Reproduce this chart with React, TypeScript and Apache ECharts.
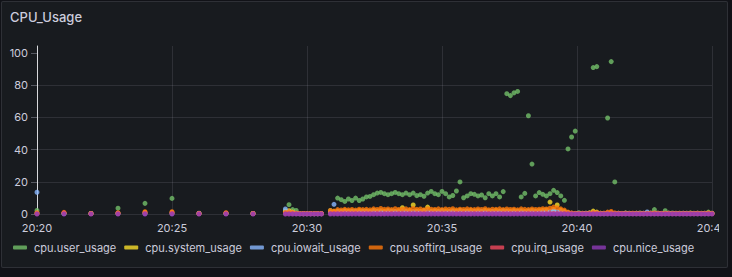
import React, { useEffect, useRef } from "react";
import * as echarts from "echarts";

// ---- time sampling (seconds after 20:20:00) ----
const BASE_TIME = Date.UTC(2024, 0, 1, 20, 20, 0);
const X_MIN = 0;
const X_MAX = 1500;
const X_TICK = 300;
const SPARSE = { start: 0, step: 60, count: 9 };
const SEG1 = { start: 552, step: 8, count: 11 };
const SEG2 = { start: 652, step: 8, count: 107 };

const Y_TICKS = [0, 20, 40, 60, 80, 100];
const Y_MAX = 104.3;

const SERIES_NAMES = [
  "cpu.user_usage",
  "cpu.system_usage",
  "cpu.iowait_usage",
  "cpu.softirq_usage",
  "cpu.irq_usage",
  "cpu.nice_usage",
];

// ---- values: 9 sparse samples, 11 samples (20:29), 107 samples (20:30:52 - 20:45) ----
const userUsage = [
  2.2, 0.3, 0.3, 3.6, 6.6, 9.7, 0.3, 0.3, 0.3,
  2.0, 5.8, 2.7, 2.2, 0.3, 0.3, 0.2, 0.3, 0.2, 0.2, 0.3,
  2.2, 1.2, 9.9, 8.9, 7.8, 9.3, 8.4, 9.9, 8.4, 9.3,
  10.6, 10.9, 12, 13, 13.4, 12.6, 12, 12.6, 13.4, 12.6,
  12, 13, 12, 13, 11.4, 12, 11, 13, 14, 12.6,
  12, 14, 12.6, 10.6, 11.5, 14.3, 19.9, 10.1, 11.2, 12.6,
  12.2, 11.2, 11.8, 10.1, 12.6, 11.2, 12.6, 10.6, 13.9, 74.7,
  73.5, 75.2, 76.1, 10.6, 12.8, 61, 31, 11.2, 13.3, 12.2,
  11.2, 12.6, 14.7, 13.3, 11.2, 8.5, 40.4, 47.8, 51.5, 0.8,
  0.5, 0.4, 0.6, 90.9, 91.5, 0.5, 0.4, 59.6, 94.6, 19.9,
  0.5, 0.4, 0.6, 0.5, 0.4, 0.5, 0.6, 0.4, 0.5, 0.6,
  2.7, 0.5, 0.4, 2.0, 0.5, 0.6, 0.4, 0.5, 0.4, 0.5,
  0.6, 0.4, 0.5, 0.4, 0.5, 1.2, 0.5,
];

const systemUsage = [
  0.5, 0.5, 0.3, 0.5, 1.0, 1.0, 0.3, 0.5, 0.3,
  1.5, 2.0, 1.2, 0.5, 0.3, 0.2, 0.2, 0.2, 0.2, 0.2, 0.2,
  1.2, 1.5, 1.8, 1.6, 2.0, 1.7, 1.9, 1.5, 2.1, 1.8,
  1.9, 1.6, 2.2, 1.8, 2.0, 1.7, 2.1, 1.9, 1.6, 2.0,
  3.9, 1.8, 2.1, 5.6, 1.9, 1.7, 2.2, 4.3, 1.8, 2.0,
  1.7, 2.1, 1.9, 1.6, 2.0, 1.8, 2.2, 1.7, 1.9, 2.1,
  1.8, 2.0, 1.6, 2.2, 1.9, 1.7, 2.1, 1.8, 2.0, 1.9,
  1.7, 2.1, 1.8, 2.0, 1.6, 1.9, 2.2, 1.8, 2.0, 2.3,
  2.5, 7.4, 2.8, 5.6, 2.4, 1.6, 0.8, 0.4, 0.3, 0.3,
  0.3, 0.4, 0.6, 1.8, 1.2, 0.4, 0.3, 0.5, 0.7, 0.4,
  0.3, 0.3, 0.4, 0.3, 0.3, 0.4, 0.3, 0.3, 0.4, 0.3,
  0.3, 0.4, 0.3, 0.3, 0.4, 0.3, 0.3, 0.4, 0.3, 0.3,
  0.4, 0.3, 0.3, 0.4, 0.3, 0.5, 0.3,
];

const iowaitUsage = [
  13.5, 0.3, 0.3, 0.3, 0.3, 0.3, 0.5, 0.3, 0.3,
  3.1, 1.2, 0.6, 0.3, 0.2, 0.2, 0.2, 0.2, 0.2, 0.2, 0.2,
  0.8, 6.0, 1.4, 1.2, 1.6, 1.3, 1.5, 1.7, 1.2, 1.4,
  1.6, 1.3, 1.8, 1.4, 1.5, 1.2, 1.7, 1.4, 1.6, 1.3,
  1.5, 1.8, 1.3, 1.6, 1.4, 1.2, 1.7, 1.5, 1.3, 1.6,
  1.4, 1.7, 1.2, 1.5, 1.6, 1.3, 1.8, 1.4, 1.5, 1.2,
  1.6, 1.4, 1.7, 1.3, 1.5, 1.6, 1.2, 1.4, 1.7, 1.5,
  1.3, 1.6, 1.4, 1.5, 1.2, 1.7, 1.4, 1.6, 1.3, 1.5,
  1.6, 1.8, 2.0, 1.7, 1.4, 1.0, 0.6, 0.4, 0.3, 0.4,
  0.3, 0.5, 0.4, 0.6, 0.5, 0.3, 0.4, 0.5, 0.4, 0.3,
  0.4, 0.3, 0.5, 0.4, 0.3, 0.4, 0.4, 0.5, 1.3, 0.4,
  0.5, 0.4, 0.3, 0.4, 0.5, 0.3, 0.4, 0.3, 0.5, 0.4,
  0.3, 0.4, 0.5, 0.3, 0.4, 0.3, 0.4,
];

const softirqUsage = [
  0.8, 1.0, 0.3, 0.8, 1.4, 1.4, 0.3, 0.8, 0.3,
  1.0, 1.5, 1.0, 0.5, 0.3, 0.3, 0.3, 0.3, 0.3, 0.3, 0.3,
  2.2, 1.8, 2.7, 2.5, 2.9, 2.6, 2.8, 2.4, 3.0, 2.7,
  2.9, 2.6, 3.2, 2.8, 3.4, 2.9, 3.1, 2.7, 3.3, 2.8,
  3.0, 3.2, 2.7, 3.4, 2.9, 3.1, 2.6, 3.3, 3.0, 2.8,
  3.2, 2.7, 3.1, 2.9, 3.3, 2.6, 3.0, 2.8, 3.2, 2.9,
  2.7, 3.1, 2.8, 3.3, 2.6, 3.0, 2.9, 3.2, 2.7, 3.1,
  2.8, 3.0, 2.6, 3.2, 2.9, 2.7, 3.1, 2.8, 3.0, 3.3,
  3.1, 3.6, 4.3, 3.8, 3.2, 2.4, 1.2, 0.6, 0.4, 0.3,
  0.4, 0.3, 0.5, 1.0, 0.8, 0.4, 0.5, 1.2, 1.6, 0.6,
  0.4, 0.3, 0.4, 0.3, 0.5, 0.3, 0.4, 0.3, 0.4, 0.5,
  0.6, 0.4, 0.3, 0.5, 0.4, 0.3, 0.4, 0.3, 0.4, 0.3,
  0.4, 0.3, 0.5, 0.3, 0.4, 0.6, 0.4,
];

const irqUsage = [
  0.2, 0.6, 0.2, 0.3, 0.5, 0.5, 0.2, 0.3, 0.2,
  0.2, 0.2, 0.2, 0.2, 0.2, 0.2, 0.2, 0.2, 0.2, 0.2, 0.2,
  0.3, 0.4, 0.3, 0.3, 0.4, 0.3, 0.3, 0.4, 0.3, 0.3,
  0.4, 0.3, 0.3, 0.4, 0.3, 0.3, 0.4, 0.3, 0.3, 0.4,
  0.3, 0.3, 0.4, 0.3, 0.3, 0.4, 0.3, 0.3, 0.4, 0.3,
  0.3, 0.4, 0.3, 0.3, 0.4, 0.3, 0.3, 0.4, 0.3, 0.3,
  0.4, 0.3, 0.3, 0.4, 0.3, 0.3, 0.4, 0.3, 0.3, 0.4,
  0.3, 0.3, 0.4, 0.3, 0.3, 0.4, 0.3, 0.3, 0.4, 0.3,
  0.3, 0.4, 0.3, 0.3, 0.4, 0.3, 0.2, 0.2, 0.2, 0.2,
  0.2, 0.2, 0.2, 0.2, 0.2, 0.2, 0.2, 0.2, 0.2, 0.2,
  0.2, 0.2, 0.2, 0.2, 0.2, 0.2, 0.2, 0.2, 0.2, 0.2,
  0.2, 0.2, 0.2, 0.2, 0.2, 0.2, 0.2, 0.2, 0.2, 0.2,
  0.2, 0.2, 0.2, 0.2, 0.2, 0.2, 0.2,
];

const niceUsage = [
  0, 0, 0, 0, 0, 0, 0, 0, 0,
  0, 0, 0, 0, 0, 0, 0, 0, 0, 0, 0,
  0, 0, 0, 0, 0, 0, 0, 0, 0, 0,
  0, 0, 0, 0, 0, 0, 0, 0, 0, 0,
  0, 0, 0, 0, 0, 0, 0, 0, 0, 0,
  0, 0, 0, 0, 0, 0, 0, 0, 0, 0,
  0, 0, 0, 0, 0, 0, 0, 0, 0, 0,
  0, 0, 0, 0, 0, 0, 0, 0, 0, 0,
  0, 0, 0, 0, 0, 0, 0, 0, 0, 0,
  0, 0, 0, 0, 0, 0, 0, 0, 0, 0,
  0, 0, 0, 0, 0, 0, 0, 0, 0, 0,
  0, 0, 0, 0, 0, 0, 0, 0, 0, 0,
  0, 0, 0, 0, 0, 0, 0,
];

const SERIES_VALUES = [userUsage, systemUsage, iowaitUsage, softirqUsage, irqUsage, niceUsage];
const SERIES_COLORS = ["#73BF69", "#FADE2A", "#8AB8FF", "#FF780A", "#F2495C", "#8F3BB8"];

function sampleTimes(seg: { start: number; step: number; count: number }) {
  const out: number[] = [];
  for (let i = 0; i < seg.count; i++) out.push(seg.start + i * seg.step);
  return out;
}
const TIMES = [...sampleTimes(SPARSE), ...sampleTimes(SEG1), ...sampleTimes(SEG2)];

const pad = (n: number) => (n < 10 ? "0" + n : String(n));
const fmtTime = (sec: number) => {
  const d = new Date(BASE_TIME + sec * 1000);
  return pad(d.getUTCHours()) + ":" + pad(d.getUTCMinutes());
};

const GRID_COLOR = "rgba(204,204,220,0.12)";
const TEXT_COLOR = "#ccccdc";
const FONT = "Inter, 'Noto Sans', sans-serif";

export default function App() {
  const ref = useRef<HTMLDivElement>(null);
  useEffect(() => {
    if (!ref.current) return;
    const chart = echarts.init(ref.current, undefined, { renderer: "svg" });
    chart.setOption({
      animation: false,
      backgroundColor: "transparent",
      textStyle: { fontFamily: FONT },
      title: {
        text: "CPU_Usage",
        left: 10,
        top: 10,
        padding: 0,
        textStyle: { color: TEXT_COLOR, fontSize: 13, fontWeight: 500, fontFamily: FONT },
      },
      legend: {
        data: SERIES_NAMES,
        left: 13,
        top: 242,
        padding: 0,
        icon: "roundRect",
        itemWidth: 14,
        itemHeight: 4,
        itemGap: 8,
        textStyle: { color: TEXT_COLOR, fontSize: 11, fontFamily: FONT, padding: [0, 0, 0, 2] },
      },
      grid: { left: 37, top: 46, right: 7, bottom: 63, containLabel: false, outerBoundsMode: "none" },
      xAxis: {
        type: "value",
        min: X_MIN,
        max: X_MAX,
        interval: X_TICK,
        axisLine: { show: false },
        axisTick: { show: false },
        splitLine: { show: true, lineStyle: { color: GRID_COLOR, width: 1 } },
        axisLabel: {
          color: TEXT_COLOR,
          fontSize: 11,
          fontFamily: FONT,
          margin: 8,
          formatter: (v: number) => fmtTime(v),
        },
      },
      yAxis: {
        type: "value",
        min: 0,
        max: Y_MAX,
        interval: 20,
        axisLine: { show: true, lineStyle: { color: "#d8d9dc", width: 1 } },
        axisTick: {
          show: true,
          length: 6,
          customValues: Y_TICKS,
          lineStyle: { color: "rgba(204,204,220,0.35)" },
        },
        axisLabel: {
          customValues: Y_TICKS,
          color: TEXT_COLOR,
          fontSize: 11,
          fontFamily: FONT,
          margin: 9,
        },
        splitLine: { show: true, showMaxLine: false, lineStyle: { color: GRID_COLOR, width: 1 } },
      },
      series: SERIES_NAMES.map((name, si) => ({
        name,
        type: "scatter",
        symbol: "circle",
        symbolSize: 5,
        clip: false,
        itemStyle: { color: SERIES_COLORS[si] },
        data: TIMES.map((t, i) => [t, SERIES_VALUES[si][i]]),
      })),
    });
    return () => chart.dispose();
  }, []);

  return (
    <div style={{ position: "fixed", left: 0, top: 0, width: 732, height: 277, background: "#111217" }}>
      <div
        style={{
          position: "absolute",
          left: 1,
          top: 1,
          width: 727,
          height: 267,
          boxSizing: "border-box",
          border: "1px solid rgba(204,204,220,0.12)",
          borderRadius: 2,
          background: "#181b1f",
        }}
      />
      <div
        ref={ref}
        style={{ position: "absolute", left: 0, top: 0, width: 719, height: 277, overflow: "hidden" }}
      />
    </div>
  );
}
